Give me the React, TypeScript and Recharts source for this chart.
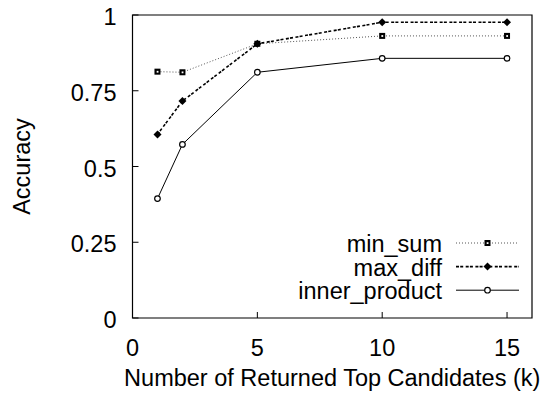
import React from "react";
import { LineChart, Line, XAxis, YAxis, ReferenceArea } from "recharts";

const kValues = [1, 2, 5, 10, 15];
const minSum = [0.813, 0.811, 0.905, 0.931, 0.931];
const maxDiff = [0.606, 0.716, 0.905, 0.976, 0.976];
const innerProduct = [0.394, 0.573, 0.811, 0.857, 0.857];
const xTicks = [0, 5, 10, 15];
const yTicks = [0, 0.25, 0.5, 0.75, 1];

const data = kValues.map((k, i) => ({
  k,
  min_sum: minSum[i],
  max_diff: maxDiff[i],
  inner_product: innerProduct[i],
}));

const FONT = "'Liberation Sans', Arial, Helvetica, sans-serif";
const FS = 23.5;
const TICK = 6;

const SquareDot = (p: any) => {
  const { cx, cy } = p;
  if (cx == null || cy == null) return null;
  return (
    <g>
      <rect x={cx - 3} y={cy - 3} width={6} height={6} fill="#000" />
      <rect x={cx - 0.8} y={cy - 0.8} width={1.8} height={1.8} fill="#fff" />
    </g>
  );
};

const DiamondDot = (p: any) => {
  const { cx, cy } = p;
  if (cx == null || cy == null) return null;
  return <path d={`M${cx},${cy - 4}L${cx + 4},${cy}L${cx},${cy + 4}L${cx - 4},${cy}Z`} fill="#000" />;
};

const CircleDot = (p: any) => {
  const { cx, cy } = p;
  if (cx == null || cy == null) return null;
  return <circle cx={cx} cy={cy} r={2.8} fill="#fff" stroke="#000" strokeWidth={1.2} />;
};

const series = [
  { key: "min_sum", stroke: "#555", width: 1, dash: "1 2", Dot: SquareDot },
  { key: "max_diff", stroke: "#000", width: 1.6, dash: "3 1.2 3 2.5", Dot: DiamondDot },
  { key: "inner_product", stroke: "#000", width: 1, dash: undefined, Dot: CircleDot },
];

const LeftTick = ({ x, y, payload }: any) => (
  <g>
    <line x1={x} x2={x + TICK} y1={y} y2={y} stroke="#000" />
    <text x={x - 16} y={y + 2} textAnchor="end" dominantBaseline="central" fontSize={FS} fontFamily={FONT} fill="#000">
      {payload.value}
    </text>
  </g>
);

const RightTick = ({ x, y }: any) => <line x1={x - TICK} x2={x} y1={y} y2={y} stroke="#000" />;

const BottomTick = ({ x, y, payload }: any) => (
  <g>
    <line x1={x} x2={x} y1={y - TICK} y2={y} stroke="#000" />
    <text x={x} y={y + 30} textAnchor="middle" dominantBaseline="central" fontSize={FS} fontFamily={FONT} fill="#000">
      {payload.value}
    </text>
  </g>
);

const TopTick = ({ x, y }: any) => <line x1={x} x2={x} y1={y} y2={y + TICK} stroke="#000" />;

const YTitle = ({ viewBox }: any) => {
  const cy = viewBox.y + viewBox.height / 2;
  return (
    <text x={22} y={cy} transform={`rotate(-90 22 ${cy})`} textAnchor="middle" dominantBaseline="central" fontSize={FS} fontFamily={FONT} fill="#000">
      Accuracy
    </text>
  );
};

const LegendBox = () => (
  <svg width={250} height={80} style={{ overflow: "visible", display: "block" }}>
    {series.map((s, i) => {
      const y = 12 + i * 23.6;
      return (
        <g key={s.key}>
          <text x={162} y={y + 1} textAnchor="end" dominantBaseline="central" fontSize={FS} fontFamily={FONT} fill="#000">
            {s.key}
          </text>
          <line x1={176} x2={239} y1={y} y2={y} stroke={s.stroke} strokeWidth={s.width} strokeDasharray={s.dash} />
          <s.Dot cx={207.5} cy={y} />
        </g>
      );
    })}
  </svg>
);

export default function App() {
  return (
    <div style={{ position: "absolute", left: 0, top: 0, width: 545, height: 395, background: "#fff" }}>
      <LineChart width={545} height={395} data={data} margin={{ top: 15, right: 13, bottom: 0, left: 0 }}>
        <XAxis
          dataKey="k"
          type="number"
          domain={[0, 16]}
          ticks={xTicks}
          height={77}
          tickSize={0}
          tickMargin={0}
          tickLine={false}
          axisLine={false}
          tick={<BottomTick />}
          label={{ value: "Number of Returned Top Candidates (k)", position: "insideBottom", offset: 9, fontSize: FS, fontFamily: FONT, fill: "#000" }}
        />
        <XAxis
          xAxisId="top"
          orientation="top"
          type="number"
          domain={[0, 16]}
          ticks={xTicks}
          height={0}
          tickSize={0}
          tickMargin={0}
          tickLine={false}
          axisLine={false}
          tick={<TopTick />}
        />
        <YAxis
          type="number"
          domain={[0, 1]}
          ticks={yTicks}
          width={132.5}
          tickSize={0}
          tickMargin={0}
          tickLine={false}
          axisLine={false}
          tick={<LeftTick />}
          label={<YTitle />}
        />
        <YAxis
          yAxisId="right"
          orientation="right"
          type="number"
          domain={[0, 1]}
          ticks={yTicks}
          width={0}
          tickSize={0}
          tickMargin={0}
          tickLine={false}
          axisLine={false}
          tick={<RightTick />}
        />
        <ReferenceArea x1={0} x2={16} y1={0} y2={1} fill="none" stroke="#000" strokeWidth={1.2} ifOverflow="visible" />
        {series.map((s) => (
          <Line
            key={s.key}
            dataKey={s.key}
            stroke={s.stroke}
            strokeWidth={s.width}
            strokeDasharray={s.dash}
            dot={<s.Dot />}
            activeDot={false}
            isAnimationActive={false}
          />
        ))}
      </LineChart>
      <div style={{ position: "absolute", left: 280, top: 231 }}>
        <LegendBox />
      </div>
    </div>
  );
}
